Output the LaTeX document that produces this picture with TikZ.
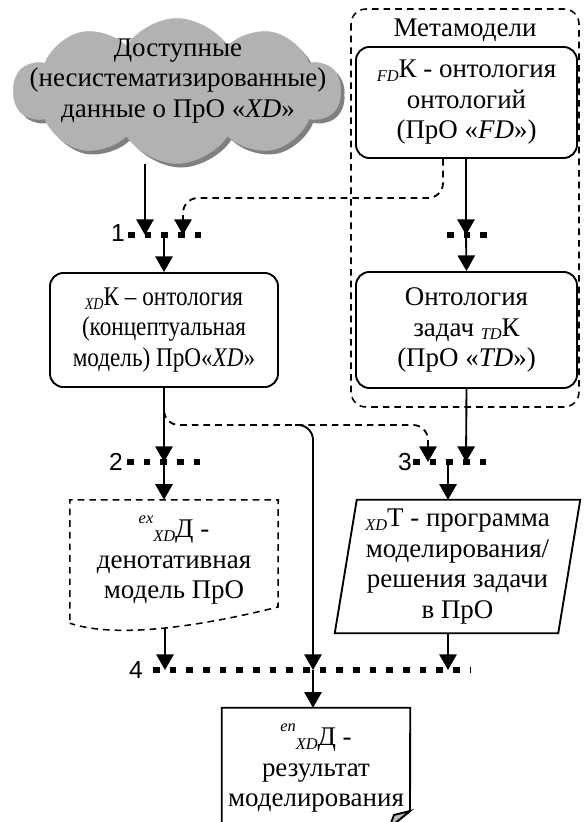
\documentclass[tikz,border=0pt]{standalone}
\usepackage{fontspec}
\setmainfont{Liberation Serif}
\newfontfamily\labelfont{Liberation Sans}
\usetikzlibrary{arrows.meta}
\usetikzlibrary{shapes.symbols}
\usetikzlibrary{shadows}
\newcommand{\lowidx}[1]{\raisebox{-0.3ex}{\fontsize{14}{14}\selectfont\itshape #1}}
\newcommand{\highidx}[1]{\raisebox{1.2ex}{\fontsize{14}{14}\selectfont\itshape #1}}
\tikzset{txt/.style = {font=\fontsize{23}{26}\selectfont, align=center, inner sep=0pt}}
\tikzset{narrow/.style = {font=\fontsize{23}{26}\selectfont\addfontfeatures{FakeStretch=0.86}}}
\tikzset{box/.style = {txt, draw, rounded corners=0.4cm, line width=1.6pt}}
\tikzset{outline/.style = {line width=1.6pt, line join=miter}}
\tikzset{docline/.style = {line width=1.3pt, dash pattern=on 0.2cm off 0.15cm}}
\tikzset{metabox/.style = {line width=1.3pt, dash pattern=on 0.2cm off 0.15cm, rounded corners=0.45cm}}
\tikzset{arr/.style = {line width=1.6pt, -{Triangle[width=0.52cm,length=0.47cm]}}}
\tikzset{dasharr/.style = {arr, dash pattern=on 0.2cm off 0.15cm, rounded corners=0.45cm}}
\tikzset{joinline/.style = {line width=0.2cm, dash pattern=on 0.2cm off 0.3cm}}
\tikzset{num/.style = {font=\labelfont\fontsize{21}{21}\selectfont, inner sep=0pt}}
\tikzset{cloudshape/.style = {cloud, cloud puffs=10, cloud puff arc=115, aspect=2.6,
                              minimum width=9.8cm, minimum height=4.35cm,
                              fill=black!30, draw=black!30,
                              drop shadow={shadow xshift=0.12cm, shadow yshift=-0.12cm,
                                           fill=black!50, opacity=1}}}

\begin{document}
\begin{tikzpicture}[x=0.03cm, y=-0.03cm]
      \clip (0,0) rectangle (584,822);

      \node[cloudshape] (data) at (177,91) {};
      \node[txt] (datalbl) at (178,81)
        {Доступные\\(несистематизированные)\\данные о ПрО «\textit{XD}»};

      \draw[metabox] (351,9) rectangle (579,407);
      \node[txt] (metalbl) at (465,30) {Метамодели};

      \node[box, minimum width=6.63cm, minimum height=3.33cm] (fd) at (466.5,102.5)
        {\lowidx{FD}К - онтология\\онтологий\\(ПрО «\textit{FD}»)};
      \node[box, minimum width=6.63cm, minimum height=3.48cm] (td) at (466.5,330)
        {Онтология\\задач \lowidx{TD}К\\(ПрО «\textit{TD}»)};
      \node[box, narrow, minimum width=6.84cm, minimum height=3.42cm] (xdk) at (164,330)
        {\lowidx{XD}К – онтология\\(концептуальная\\модель) ПрО«\textit{XD}»};

      \node[txt, minimum width=6.24cm, minimum height=3.6cm] (doc) at (174,560)
        {\highidx{ex}\lowidx{XD}Д -\\денотативная\\модель ПрО};
      \draw[docline] (doc.south west) -- (doc.north west) -- (doc.north east) -- (278,607)
        .. controls (210,624) and (120,640) .. ([yshift=-0.09cm]doc.south west);

      \node[txt, minimum width=7.35cm, minimum height=3.99cm] (prog) at (457.5,566.5)
        {\lowidx{XD}Т - программа\\моделирования/\\решения задачи\\в ПрО};
      \draw[outline] ([xshift=0.66cm]prog.north west) -- (prog.north east)
        -- ([xshift=-0.66cm]prog.south east) -- (prog.south west) -- cycle;

      \node[txt, minimum width=5.64cm, minimum height=3.6cm] (res) at (316,768)
        {\highidx{en}\lowidx{XD}Д -\\результат\\моделирования};
      \draw[outline] (res.south west) -- (res.north west) -- (res.north east) -- (410,811) -- (389,828);
      \filldraw[outline, fill=black!25] (410,811) -- (394,815) -- (389,828) -- cycle;

      \coordinate (j1a) at (145,235);
      \coordinate (j1b) at (183,235);
      \coordinate (j1) at (164,235);
      \coordinate (jm) at (466,235);
      \coordinate (j2) at (164,462);
      \coordinate (j3a) at (428,462);
      \coordinate (j3b) at (466,462);
      \coordinate (j3) at (448,462);
      \coordinate (j4a) at (165,670);
      \coordinate (j4b) at (313,670);
      \coordinate (j4c) at (448,670);
      \coordinate (feed) at (295,425);
      \coordinate (docfoot) at (165,628);

      \draw[joinline] (128,235) -- (202,235);
      \draw[joinline] (447,235) -- (487,235);
      \draw[joinline] (127,462) -- (202,462);
      \draw[joinline] (413,462) -- (487,462);
      \draw[joinline] (153,670) -- (470,670);
      \node[num] (lbl1) at (118,233) {1};
      \node[num] (lbl2) at (116,462) {2};
      \node[num] (lbl3) at (405,462) {3};
      \node[num] (lbl4) at (136,670) {4};

      \draw[arr] (data.south -| j1a) -- (j1a);
      \draw[dasharr] (fd.south -| 443,0) |- (j1b |- 0,198) -- (j1b);
      \draw[arr] (fd.south -| jm) -- (jm);
      \draw[arr] (j1) -- (xdk.north);
      \draw[arr] (jm) -- (td.north);
      \draw[arr] (xdk.south) -- (j2);
      \draw[arr] (j2) -- (j2 |- doc.north);
      \draw[dasharr] (xdk.south) |- (j3a |- 0,425) -- (j3a);
      \draw[arr] (td.south) -- (j3b);
      \draw[arr] (j3) -- (j3 |- prog.north);
      \draw[arr, rounded corners=0.45cm] (feed) -| (j4b);
      \draw[arr] (docfoot) -- (j4a);
      \draw[arr] (prog.south -| j4c) -- (j4c);
      \draw[arr] (j4b) -- (j4b |- res.north);
    \end{tikzpicture}
\end{document}
